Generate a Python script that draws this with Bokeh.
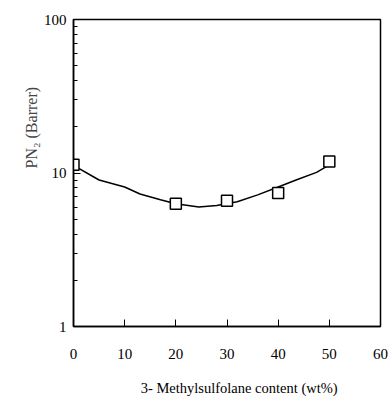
from bokeh.plotting import figure
from bokeh.models import FixedTicker, Range1d, Title, Label
from bokeh.layouts import column
from bokeh.embed import file_html
from bokeh.resources import INLINE

# data
content_wt = [0, 20, 30, 40, 50]
pn2_barrer = [11.3, 6.3, 6.6, 7.4, 11.9]

fit_x = [0, 5, 10, 13, 17, 20, 24.5, 28, 32, 36, 40, 43.5, 47.5, 50]
fit_y = [11.2, 9.0, 8.1, 7.3, 6.7, 6.3, 6.0, 6.15, 6.5, 7.2, 8.1, 9.0, 10.1, 11.3]

x_ticks = [0, 10, 20, 30, 40, 50, 60]
y_ticks = [1, 10, 100]
y_tick_labels = {1: "1", 10: "10", 100: "100"}

FONT = "Liberation Serif"

p = figure(width=391, height=380, y_axis_type="log",
           x_range=Range1d(0, 60), y_range=Range1d(1, 100),
           output_backend="svg", toolbar_location=None,
           min_border_left=73, min_border_right=11,
           min_border_top=19, min_border_bottom=54)
p.background_fill_color = "white"
p.border_fill_color = "white"
p.grid.visible = False
p.outline_line_color = "black"
p.outline_line_width = 1.5

p.xaxis.ticker = FixedTicker(ticks=x_ticks)
p.xaxis.major_tick_in = 7
p.xaxis.major_tick_out = 0
p.xaxis.minor_tick_in = 0
p.xaxis.minor_tick_out = 0
p.xaxis.major_label_standoff = 22
p.xaxis.axis_line_width = 1.5
p.xaxis.major_label_text_font = FONT
p.xaxis.major_label_text_font_size = "15px"
p.xaxis.major_label_text_color = "black"

minor = [m * d for d in (1, 10) for m in range(2, 10)]
p.yaxis.ticker = FixedTicker(ticks=y_ticks, minor_ticks=minor)
p.yaxis.major_label_overrides = y_tick_labels
p.yaxis.major_tick_in = 7
p.yaxis.major_tick_out = 0
p.yaxis.minor_tick_in = 4
p.yaxis.minor_tick_out = 0
p.yaxis.major_label_standoff = 7
p.yaxis.axis_line_width = 1.5
p.yaxis.major_label_text_font = FONT
p.yaxis.major_label_text_font_size = "15px"
p.yaxis.major_label_text_color = "black"

p.line(fit_x, fit_y, line_color="black", line_width=1.5)
p.scatter(content_wt, pn2_barrer, marker="square", size=11,
          fill_color="white", line_color="black", line_width=1.5)

yt = Title(text="PN₂ (Barrer)", align="left", offset=158,
           text_font=FONT, text_font_size="16px", text_font_style="normal",
           standoff=1)
p.add_layout(yt, "left")

# strip below the chart holding the x-axis title
p2 = figure(width=391, height=21, x_range=Range1d(0, 391), y_range=Range1d(0, 21),
            output_backend="svg", toolbar_location=None,
            min_border=0, min_border_left=0, min_border_right=0,
            min_border_top=0, min_border_bottom=0)
p2.axis.visible = False
p2.grid.visible = False
p2.outline_line_color = None
p2.background_fill_color = "white"
p2.border_fill_color = "white"
p2.add_layout(Label(x=211, y=14, text="3- Methylsulfolane content (wt%)",
                    text_font=FONT, text_font_size="14.5px",
                    text_align="center", text_baseline="middle",
                    text_color="black"))

layout = column(p, p2, spacing=0)
open("out.html", "w").write(file_html(layout, INLINE))
